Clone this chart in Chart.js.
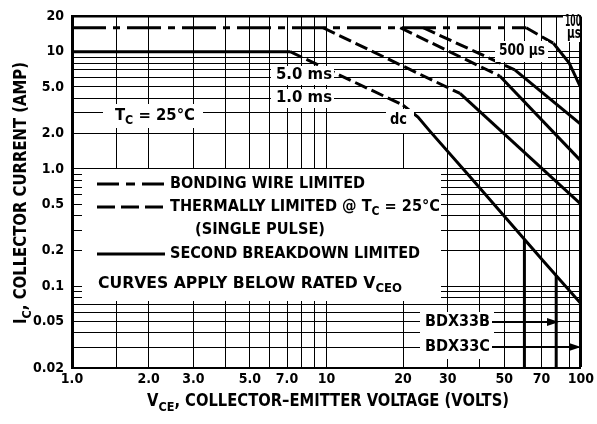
<!DOCTYPE html>
<html>
<head>
<meta charset="utf-8">
<script src="https://cdn.jsdelivr.net/npm/chart.js@4.4.0/dist/chart.umd.min.js"></script>
<style>
  html, body { margin: 0; padding: 0; background: #fff; }
</style>
</head>
<body>
<canvas id="soa" width="597" height="424"></canvas>
<script>
// grid / tick values
const xTicks = [1, 1.5, 2, 3, 4, 5, 6, 7, 8, 9, 10, 20, 30, 40, 50, 60, 70, 80, 90, 100];
const xLabels = { 1: "1.0", 2: "2.0", 3: "3.0", 5: "5.0", 7: "7.0", 10: "10", 20: "20", 30: "30", 50: "50", 70: "70", 100: "100" };
const yTicks = [0.02, 0.03, 0.04, 0.05, 0.06, 0.07, 0.08, 0.09,
  0.1, 0.2, 0.3, 0.4, 0.5, 0.6, 0.7, 0.8, 0.9,
  1, 2, 3, 4, 5, 6, 7, 8, 9, 10, 20];
const yLabels = { 0.02: "0.02", 0.05: "0.05", 0.1: "0.1", 0.2: "0.2", 0.5: "0.5", 1: "1.0", 2: "2.0", 5: "5.0", 10: "10", 20: "20" };

// curves: V (volts) / I (amps)
const bondV = [1, 61];            const bondI = [16, 16];
const dcLimV = [1, 7.2];          const dcLimI = [10, 10];
const dcThV = [7.2, 20];          const dcThI = [10, 3.5];
const dcSbV = [20, 22.9, 25.5, 36.6, 70.9, 100];
const dcSbI = [3.5, 2.77, 2.1, 0.86, 0.165, 0.071];
const ms5ThV = [9.7, 33.5];       const ms5ThI = [16, 4.4];
const ms5SbV = [33.5, 100];       const ms5SbI = [4.4, 0.5];
const ms1ThV = [19.5, 48];        const ms1ThI = [16, 6.2];
const ms1SbV = [48, 100];         const ms1SbI = [6.2, 1.17];
const us500ThV = [24, 55];        const us500ThI = [16, 7.0];
const us500SbV = [55, 100];       const us500SbI = [7.0, 2.4];
const us100ThV = [61, 78];        const us100ThI = [16, 11.8];
const us100SbV = [78, 90, 100];   const us100SbI = [11.8, 8.0, 4.9];
// rated VCEO limits
const vceoV = [60, 80];           const vceoI = [0.25, 0.123];
const vceoFloor = 0.02;

const FAM = "'Liberation Sans Narrow', 'DejaVu Sans Condensed', 'Arial Narrow', sans-serif";
const DASH_DOT = [34, 7, 7, 7];
const DASH = [13, 5];

function pts(vs, is) { return vs.map((v, k) => ({ x: v, y: is[k] })); }
function curve(vs, is, dash, w) {
  return { data: pts(vs, is), showLine: true, borderColor: "#000", borderWidth: w || 3,
           borderDash: dash || [], pointRadius: 0, fill: false };
}

const datasets = [
  curve(bondV, bondI, DASH_DOT),
  curve(dcLimV, dcLimI, [], 3),
  curve(dcThV, dcThI, DASH),
  curve(dcSbV, dcSbI),
  curve(ms5ThV, ms5ThI, DASH),
  curve(ms5SbV, ms5SbI),
  curve(ms1ThV, ms1ThI, DASH),
  curve(ms1SbV, ms1SbI),
  curve(us500ThV, us500ThI, DASH),
  curve(us500SbV, us500SbI),
  curve(us100ThV, us100ThI, DASH),
  curve(us100SbV, us100SbI),
];
vceoV.forEach((v, k) => datasets.push(curve([v, v], [vceoI[k], vceoFloor], [], 3)));

// text with optional subscripts, squeezed to a target width
function rich(ctx, parts, x, y, o) {
  const size = o.size || 15;
  const wt = o.weight || "bold";
  const big = `${wt} ${size}px ${FAM}`;
  const small = `${wt} ${Math.round(size * 0.75)}px ${FAM}`;
  let w = 0;
  parts.forEach(p => { ctx.font = p[1] ? small : big; w += ctx.measureText(p[0]).width; });
  const sx = o.width ? o.width / w : 1;
  ctx.save();
  ctx.translate(x, y);
  if (o.rotate) ctx.rotate(o.rotate);
  ctx.scale(sx, 1);
  let cx = o.align === "center" ? -w / 2 : 0;
  ctx.textAlign = "left";
  ctx.textBaseline = "middle";
  ctx.fillStyle = "#000";
  parts.forEach(p => {
    ctx.font = p[1] ? small : big;
    ctx.fillText(p[0], cx, p[1] ? size * 0.32 : 0);
    cx += ctx.measureText(p[0]).width;
  });
  ctx.restore();
}
function box(ctx, x, y, w, h) { ctx.fillStyle = "#fff"; ctx.fillRect(x, y, w, h); }
function seg(ctx, x1, y1, x2, y2, dash, w) {
  ctx.save();
  ctx.strokeStyle = "#000"; ctx.lineWidth = w || 3; ctx.setLineDash(dash || []);
  ctx.beginPath(); ctx.moveTo(x1, y1); ctx.lineTo(x2, y2); ctx.stroke();
  ctx.restore();
}
function arrow(ctx, x1, x2, y) {
  seg(ctx, x1, y, x2 - 6, y, [], 2);
  ctx.fillStyle = "#000";
  ctx.beginPath(); ctx.moveTo(x2, y); ctx.lineTo(x2 - 12, y - 4); ctx.lineTo(x2 - 12, y + 4); ctx.closePath(); ctx.fill();
}

const annotations = {
  id: "annotations",
  beforeDatasetsDraw(chart) {
    box(chart.ctx, 82, 169, 359, 132);   // legend area
  },
  afterDatasetsDraw(chart) {
    const ctx = chart.ctx;
    const a = chart.chartArea;
    seg(ctx, a.left, a.top, a.right, a.top, [], 2);
    // legend
    seg(ctx, 97, 184, 165, 184, [22, 7, 9, 7], 3);
    rich(ctx, [["BONDING WIRE LIMITED"]], 170, 184, { size: 16, width: 195 });
    seg(ctx, 97, 207, 165, 207, [18, 6], 3);
    rich(ctx, [["THERMALLY LIMITED @ T"], ["C", 1], [" = 25°C"]], 170, 207, { size: 16, width: 270 });
    rich(ctx, [["(SINGLE PULSE)"]], 195, 230, { size: 16, width: 130 });
    seg(ctx, 97, 254, 165, 254, [], 3);
    rich(ctx, [["SECOND BREAKDOWN LIMITED"]], 170, 254, { size: 16, width: 250 });
    rich(ctx, [["CURVES APPLY BELOW RATED V"], ["CEO", 1]], 98, 284, { size: 16, width: 304 });
    // curve labels
    box(ctx, 103, 104, 100, 24);
    rich(ctx, [["T"], ["C", 1], [" = 25°C"]], 115, 116, { size: 16, width: 80 });
    box(ctx, 271, 66, 63, 19);
    rich(ctx, [["5.0 ms"]], 276, 75, { size: 16, width: 56 });
    box(ctx, 271, 89, 63, 19);
    rich(ctx, [["1.0 ms"]], 276, 98, { size: 16, width: 56 });
    box(ctx, 386, 109, 28, 24);
    rich(ctx, [["dc"]], 390, 120, { size: 16, width: 17 });
    box(ctx, 495, 41, 53, 21);
    rich(ctx, [["500 µs"]], 499, 51, { size: 16, width: 46 });
    box(ctx, 563, 16, 17, 26);
    rich(ctx, [["100"]], 565, 22, { size: 15, width: 16 });
    rich(ctx, [["µs"]], 567, 34, { size: 15, width: 14 });
    // device labels
    box(ctx, 420, 312, 74, 47);
    rich(ctx, [["BDX33B"]], 425, 322, { size: 16, width: 65 });
    rich(ctx, [["BDX33C"]], 425, 347, { size: 16, width: 65 });
    arrow(ctx, 492, 559, 322);
    arrow(ctx, 492, 581, 347);
  },
  afterDraw(chart) {
    const ctx = chart.ctx;
    rich(ctx, [["V"], ["CE", 1], [", COLLECTOR–EMITTER VOLTAGE (VOLTS)"]], 328, 402,
      { size: 17, width: 362, align: "center" });
    rich(ctx, [["I"], ["C", 1], [", COLLECTOR CURRENT (AMP)"]], 22, 193,
      { size: 17, width: 262, align: "center", rotate: -Math.PI / 2 });
  }
};

const tickFont = { family: FAM, size: 14, weight: "bold" };

new Chart(document.getElementById("soa"), {
  type: "scatter",
  data: { datasets },
  options: {
    responsive: false,
    animation: false,
    devicePixelRatio: 1,
    layout: { padding: { top: 15, right: 16, left: 0, bottom: 0 } },
    plugins: { legend: { display: false }, tooltip: { enabled: false } },
    scales: {
      x: {
        type: "logarithmic", min: 1, max: 100,
        afterFit: s => { s.height = 56; },
        afterBuildTicks: s => { s.ticks = xTicks.map(v => ({ value: v })); },
        ticks: { autoSkip: false, maxRotation: 0, padding: 3, color: "#000", font: tickFont,
                 callback: v => xLabels[v] || "" },
        grid: { color: "#000", drawTicks: false, lineWidth: c => (c.tick && c.tick.value === 100 ? 3 : 1) },
        border: { color: "#000", width: 2 }
      },
      y: {
        type: "logarithmic", min: 0.02, max: 20,
        afterFit: s => { s.width = 72; },
        afterBuildTicks: s => { s.ticks = yTicks.map(v => ({ value: v })); },
        ticks: { autoSkip: false, padding: 8, color: "#000", font: tickFont,
                 callback: v => yLabels[v] || "" },
        grid: { color: "#000", drawTicks: false, lineWidth: c => (c.tick && c.tick.value === 20 ? 2 : 1) },
        border: { color: "#000", width: 3 }
      }
    }
  },
  plugins: [annotations]
});
</script>
</body>
</html>
